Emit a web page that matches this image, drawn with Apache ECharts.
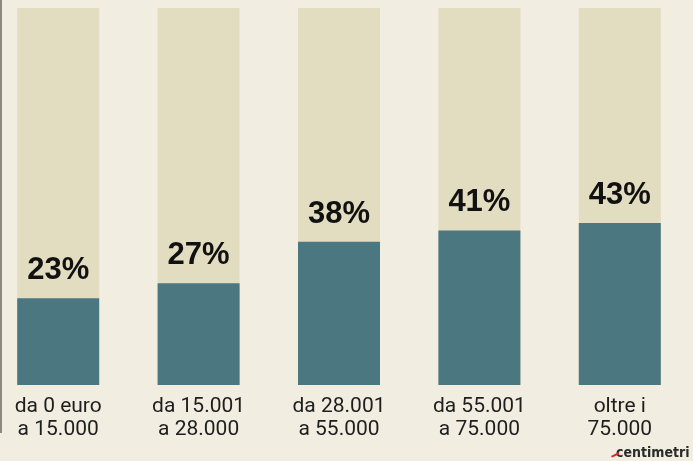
<!DOCTYPE html>
<html>
<head>
<meta charset="utf-8">
<script src="https://cdn.jsdelivr.net/npm/echarts@6/dist/echarts.min.js"></script>
<style>
html,body{margin:0;padding:0;background:#f1ede0;}
#c{width:693px;height:461px;}
</style>
</head>
<body>
<div id="c"></div>
<script>
var categories = ["da 0 euro\na 15.000", "da 15.001\na 28.000", "da 28.001\na 55.000", "da 55.001\na 75.000", "oltre i\n75.000"];
var values = [23, 27, 38, 41, 43];
var fullScale = [100, 100, 100, 100, 100];

var chart = echarts.init(document.getElementById('c'), null, {renderer: 'canvas'});
chart.setOption({
  backgroundColor: '#f1ede0',
  animation: false,
  grid: {left: -12, width: 702, top: 8, bottom: 76, outerBoundsMode: 'none', containLabel: false},
  xAxis: {
    type: 'category',
    data: categories,
    axisLine: {show: false},
    axisTick: {show: false},
    axisLabel: {
      color: '#1e1e1e',
      fontFamily: 'Roboto',
      fontSize: 21,
      lineHeight: 23,
      margin: 10,
      interval: 0
    }
  },
  yAxis: {type: 'value', min: 0, max: 100, show: false},
  series: [
    {
      type: 'bar',
      data: fullScale,
      barWidth: 82,
      silent: true,
      itemStyle: {color: '#e2ddc0'},
      z: 1
    },
    {
      type: 'bar',
      data: values,
      barWidth: 82,
      barGap: '-100%',
      itemStyle: {color: '#4b7780'},
      z: 2,
      label: {
        show: true,
        position: 'top',
        distance: 12,
        formatter: '{c}%',
        color: '#111',
        fontFamily: 'Liberation Sans',
        fontWeight: 'bold',
        fontSize: 31
      }
    }
  ],
  graphic: [
    {type: 'rect', shape: {x: 0, y: 0, width: 2, height: 433}, style: {fill: '#8c8a80'}},
    {type: 'text', left: 616, top: 446, style: {text: 'centimetri', font: 'bold 14px "DejaVu Sans Condensed", "DejaVu Sans"', fill: '#2a2a2a'}},
    {type: 'polygon', shape: {points: [[611, 456], [619, 452], [619, 454.5], [612, 457.5]]}, style: {fill: '#d8262a'}}
  ]
});
</script>
</body>
</html>
